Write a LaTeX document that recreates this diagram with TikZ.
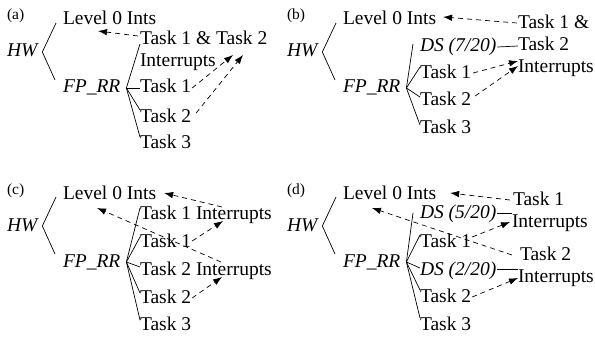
\documentclass[tikz,border=0pt]{standalone}
\usepackage{fontspec}
\setmainfont{Liberation Serif}
\usetikzlibrary{arrows.meta}
\tikzset{
  txt/.style={inner sep=0pt, outer sep=0pt, anchor=base west, font=\fontsize{19.5}{22}\selectfont},
  itx/.style={inner sep=0pt, outer sep=0pt, anchor=base west, font=\fontsize{19.5}{22}\selectfont\itshape},
  lab/.style={inner sep=0pt, outer sep=0pt, anchor=base west, font=\fontsize{15.5}{18}\selectfont},
  ln/.style={line width=0.7pt},
  da/.style={line width=0.7pt, dash pattern=on 5pt off 4pt, -{Latex[length=9pt,width=6.5pt]}},
}
\begin{document}
\begin{tikzpicture}[x=1pt,y=-1pt]
\useasboundingbox (0,0) rectangle (595,337);
% ---------------- (a)
\node[lab] (la) at (7,20) {(a)};
\node[itx] (hwa) at (7,57) {HW};
\node[txt] (l0a) at (63,25) {Level 0 Ints};
\node[itx] (fpa) at (63,93) {FP\_RR};
\draw[ln] ([xshift=-7pt,yshift=2pt]l0a.base west) -- ([xshift=5pt,yshift=5pt]hwa.base east) -- ([xshift=-8pt,yshift=13pt]fpa.base west);
\node[txt] (ia1) at (140,45) {Task 1 \& Task 2};
\node[txt] (ia2) at (140,67) {Interrupts};
\node[txt] (ta1) at (140,93) {Task 1};
\node[txt] (ta2) at (140,122) {Task 2};
\node[txt] (ta3) at (140,149) {Task 3};
\coordinate (va) at ([xshift=6pt,yshift=5pt]fpa.base east);
\draw[ln] (va) -- ([yshift=1pt]ia1.base west);
\draw[ln] (va) -- ([yshift=5pt]ta1.base west);
\draw[ln] (va) -- ([yshift=12pt]ta2.base west);
\draw[ln] (va) -- ([yshift=12pt]ta3.base west);
\draw[da] ([xshift=-2pt,yshift=9pt]ia1.base west) -- ([xshift=35pt,yshift=-6pt]l0a.base west);
\draw[da] ([xshift=1pt,yshift=5pt]ta1.base east) -- ([xshift=93pt,yshift=-10pt]ia1.base west);
\draw[da] ([xshift=5pt,yshift=9pt]ta2.base east) -- ([xshift=103pt,yshift=-10pt]ia1.base west);
% ---------------- (b)
\node[lab] (lb) at (287,20) {(b)};
\node[itx] (hwb) at (287,57) {HW};
\node[txt] (l0b) at (343,25) {Level 0 Ints};
\node[itx] (fpb) at (343,93) {FP\_RR};
\draw[ln] ([xshift=-7pt,yshift=2pt]l0b.base west) -- ([xshift=5pt,yshift=5pt]hwb.base east) -- ([xshift=-8pt,yshift=13pt]fpb.base west);
\node[txt] (ib1) at (518,29) {Task 1 \&};
\node[txt] (ib2) at (518,51) {Task 2};
\node[txt] (ib3) at (518,73) {Interrupts};
\node[itx] (dsb) at (420,52) {DS (7/20)};
\node[txt] (tb1) at (420,79) {Task 1};
\node[txt] (tb2) at (420,106) {Task 2};
\node[txt] (tb3) at (420,133) {Task 3};
\coordinate (vb) at ([xshift=6pt,yshift=5pt]fpb.base east);
\draw[ln] (vb) -- ([xshift=-7pt,yshift=8pt]dsb.base west);
\draw[ln] (vb) -- ([yshift=12pt]tb1.base west);
\draw[ln] (vb) -- ([yshift=9pt]tb2.base west);
\draw[ln] (vb) -- ([yshift=8pt]tb3.base west);
\draw[ln] ([xshift=1pt,yshift=5pt]dsb.base east) -- ([yshift=5pt]ib2.base west);
\draw[da] ([xshift=-1pt,yshift=6pt]ib1.base west) -- ([xshift=7pt,yshift=8pt]l0b.base east);
\draw[da] ([xshift=2pt,yshift=6pt]tb1.base east) -- ([yshift=12pt]ib3.base west);
\draw[da] ([xshift=4pt,yshift=10pt]tb2.base east) -- ([yshift=7pt]ib3.base west);
% ---------------- (c)
\node[lab] (lc) at (7,194) {(c)};
\node[itx] (hwc) at (7,231) {HW};
\node[txt] (l0c) at (63,199) {Level 0 Ints};
\node[itx] (fpc) at (63,267) {FP\_RR};
\draw[ln] ([xshift=-7pt,yshift=2pt]l0c.base west) -- ([xshift=5pt,yshift=5pt]hwc.base east) -- ([xshift=-8pt,yshift=13pt]fpc.base west);
\node[txt] (c1) at (140,219) {Task 1};
\node[txt] (c1i) at (196,219) {Interrupts};
\node[txt] (ct1) at (140,247) {Task 1};
\node[txt] (c2) at (140,275) {Task 2};
\node[txt] (c2i) at (196,275) {Interrupts};
\node[txt] (ct2) at (140,303) {Task 2};
\node[txt] (ct3) at (140,330) {Task 3};
\coordinate (vc) at ([xshift=6pt,yshift=5pt]fpc.base east);
\draw[ln] (vc) -- ([yshift=11pt]c1.base west);
\draw[ln] (vc) -- ([yshift=10pt]ct1.base west);
\draw[ln] (vc) -- ([yshift=8pt]c2.base west);
\draw[ln] (vc) -- ([yshift=10pt]ct2.base west);
\draw[ln] (vc) -- ([yshift=10pt]ct3.base west);
\draw[da] ([xshift=26pt,yshift=12pt]c1i.base west) -- ([xshift=8pt,yshift=6pt]l0c.base east);
\draw[da] ([xshift=25pt,yshift=13pt]c2i.base west) -- ([xshift=34pt,yshift=-9pt]l0c.base west);
\draw[da] ([xshift=1pt,yshift=6pt]ct1.base east) -- ([xshift=27pt,yshift=-2pt]c1i.base west);
\draw[da] ([xshift=1pt,yshift=5pt]ct2.base east) -- ([xshift=26pt,yshift=-2pt]c2i.base west);
% ---------------- (d)
\node[lab] (ld) at (287,194) {(d)};
\node[itx] (hwd) at (287,231) {HW};
\node[txt] (l0d) at (343,199) {Level 0 Ints};
\node[itx] (fpd) at (343,267) {FP\_RR};
\draw[ln] ([xshift=-7pt,yshift=2pt]l0d.base west) -- ([xshift=5pt,yshift=5pt]hwd.base east) -- ([xshift=-8pt,yshift=13pt]fpd.base west);
\node[txt] (s1a) at (513,205) {Task 1};
\node[txt] (s1b) at (512,227) {Interrupts};
\node[itx] (ds5) at (420,218) {DS (5/20)};
\node[txt] (dt1) at (420,247) {Task 1};
\node[txt] (s2a) at (520,260) {Task 2};
\node[txt] (s2b) at (518,282) {Interrupts};
\node[itx] (ds2) at (420,275) {DS (2/20)};
\node[txt] (dt2) at (420,302) {Task 2};
\node[txt] (dt3) at (420,330) {Task 3};
\coordinate (vd) at ([xshift=6pt,yshift=5pt]fpd.base east);
\draw[ln] (vd) -- ([xshift=-7pt,yshift=5pt]ds5.base west);
\draw[ln] (vd) -- ([yshift=12pt]dt1.base west);
\draw[ln] (vd) -- ([yshift=7pt]ds2.base west);
\draw[ln] (vd) -- ([yshift=12pt]dt2.base west);
\draw[ln] (vd) -- ([yshift=12pt]dt3.base west);
\draw[ln] ([xshift=1pt,yshift=5pt]ds5.base east) -- ([yshift=14pt]s1b.base west);
\draw[ln] ([xshift=1pt,yshift=6pt]ds2.base east) -- ([yshift=13pt]s2b.base west);
\draw[da] ([xshift=-3pt,yshift=5pt]s1a.base west) -- ([xshift=14pt,yshift=6pt]l0d.base east);
\draw[da] ([xshift=-8pt,yshift=5pt]s2a.base west) -- ([xshift=29pt,yshift=-9pt]l0d.base west);
\draw[da] ([xshift=1pt,yshift=10pt]dt1.base east) -- ([xshift=-2pt,yshift=5pt]s1b.base west);
\draw[da] ([xshift=1pt,yshift=5pt]dt2.base east) -- ([yshift=4pt]s2b.base west);
\end{tikzpicture}
\end{document}
